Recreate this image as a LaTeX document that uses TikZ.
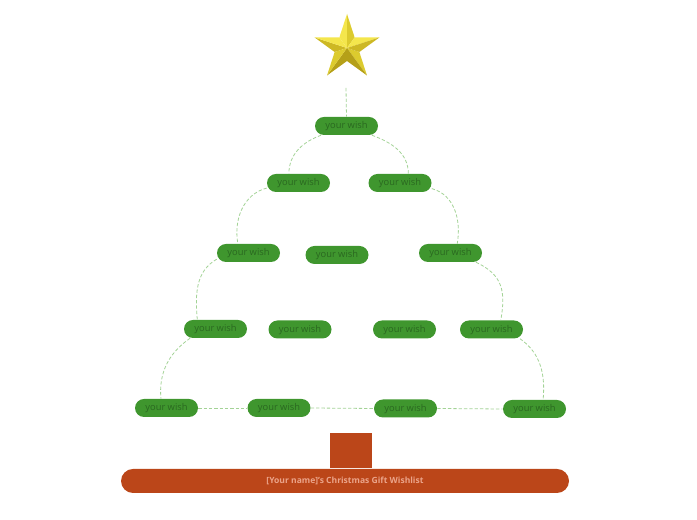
\documentclass[tikz,border=0pt]{standalone}
\usepackage{fontspec}
\setmainfont{Open Sans}
\usetikzlibrary{calc}

\definecolor{wishgreen}{HTML}{3F962E}
\definecolor{wishtext}{HTML}{2A6820}
\definecolor{linkgreen}{HTML}{A3D396}
\definecolor{trunkred}{HTML}{BB4619}
\definecolor{basetext}{HTML}{EBA48A}
\definecolor{starhi}{HTML}{F4E64C}
\definecolor{starmid}{HTML}{DCCB2E}
\definecolor{starlo}{HTML}{CDB824}
\definecolor{stardk}{HTML}{B5A018}

\begin{document}
\begin{tikzpicture}[x=0.75pt,y=0.75pt,
  wish node/.style={fill=wishgreen,rounded corners=6.75pt,minimum width=47.25pt,
    minimum height=13.5pt,inner sep=0pt,text height=5pt,text depth=0.5pt,
    text=wishtext,font=\fontsize{7}{7}\selectfont},
  link/.style={draw=linkgreen,line width=0.6pt,dash pattern=on 2.5pt off 1.5pt}]

\useasboundingbox (0,0) rectangle (697,520);

% star
\coordinate (sc) at (347,472);
\foreach \a/\ca/\cb in {90/starhi/starmid,162/starlo/starhi,234/stardk/starmid,
                        306/starmid/stardk,18/starhi/starlo}{
  \fill[\ca] (sc) -- ($(sc)+(\a:34)$) -- ($(sc)+(\a+36:13)$) -- cycle;
  \fill[\cb] (sc) -- ($(sc)+(\a:34)$) -- ($(sc)+(\a-36:13)$) -- cycle;
}
\coordinate (starfoot) at (346,432);

\node[wish node](w1) at (346.5,394) {your wish};
\node[wish node](w2a) at (298.5,337) {your wish};
\node[wish node](w2b) at (400,337) {your wish};
\node[wish node](w3a) at (248.5,267) {your wish};
\node[wish node](w3b) at (337,265) {your wish};
\node[wish node](w3c) at (450.5,267) {your wish};
\node[wish node](w4a) at (215.5,191) {your wish};
\node[wish node](w4b) at (300,190.5) {your wish};
\node[wish node](w4c) at (404.5,190.5) {your wish};
\node[wish node](w4d) at (491.5,190.5) {your wish};
\node[wish node](w5a) at (166.5,112) {your wish};
\node[wish node](w5b) at (279,112) {your wish};
\node[wish node](w5c) at (405.5,111.5) {your wish};
\node[wish node](w5d) at (534.5,111) {your wish};

% trunk and base
\node[fill=trunkred,minimum width=31.5pt,minimum height=26.25pt,inner sep=0pt](trunk) at (351,69.5) {};
\node[fill=trunkred,rounded corners=9pt,minimum width=336pt,minimum height=18pt,inner sep=0pt,
  text=basetext,font=\bfseries\fontsize{6.4}{6.4}\selectfont](base) at (345,39) {[Your name]'s Christmas Gift Wishlist};

\path[link]
(starfoot) edge (w1.north)
(w1.200) edge[out=200,in=90] (w2a.136)
(w1.-20) edge[out=-20,in=90] (w2b.48)
(w2a.189) edge[out=195,in=100] (w3a.139)
(w2b.-10) edge[out=-15,in=80] (w3c.54)
(w3a.191) edge[out=210,in=95] (w4a.153)
(w3c.-20) edge[out=-25,in=80,looseness=1.2] (w4d.45)
(w4a.200) edge[out=215,in=95] (w5a.121)
(w4d.-18) edge[out=-35,in=85] (w5d.47)
(w5a.east) edge (w5b.west)
(w5b.east) edge (w5c.west)
(w5c.east) edge (w5d.west);

\end{tikzpicture}
\end{document}
